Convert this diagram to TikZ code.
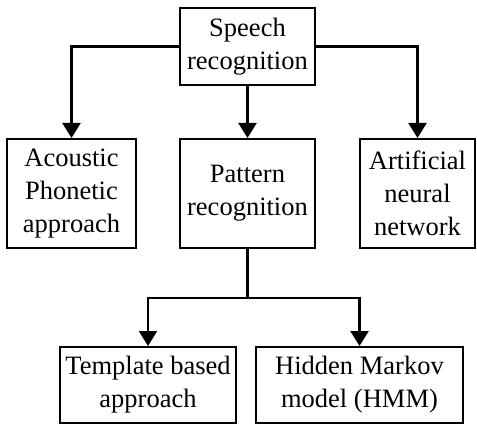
\documentclass[tikz,border=0pt]{standalone}
\usepackage{fontspec}
\setmainfont{Liberation Serif}
\usetikzlibrary{arrows.meta}
\begin{document}
\begin{tikzpicture}[x=1pt,y=-1pt,
  box/.style={draw, line width=2pt, align=center, inner sep=0pt,
    font=\fontsize{26.5}{33}\selectfont},
  arr/.style={line width=2.3pt, -{Triangle[length=15pt,width=18pt]}},
  ln/.style={line width=2.3pt}]
\useasboundingbox (0,0) rectangle (477,425);
\node[box, minimum width=135pt, minimum height=77pt] (sr) at (247.5,46.5) {Speech\\recognition};
\node[box, minimum width=129pt, minimum height=109pt] (ap) at (71.5,193.5) {Acoustic\\Phonetic\\approach};
\node[box, minimum width=135pt, minimum height=109pt] (pr) at (247.5,193.5) {Pattern\\recognition};
\node[box, minimum width=115pt, minimum height=109pt] (ann) at (417.5,193.5) {Artificial\\neural\\network};
\node[box, minimum width=176pt, minimum height=76pt] (tb) at (148,385) {Template based\\approach};
\node[box, minimum width=207pt, minimum height=76pt] (hmm) at (359.5,385) {Hidden Markov\\model (HMM)};
\draw[arr] (sr.west) -| (ap.north);
\draw[arr] (sr.south) -- (pr.north);
\draw[arr] (sr.east) -| (ann.north);
\coordinate (j) at (247.5,298);
\draw[ln] (pr.south) -- (j);
\draw[arr] (j) -| (tb.north);
\draw[arr] (j) -| (hmm.north);
\end{tikzpicture}
\end{document}
